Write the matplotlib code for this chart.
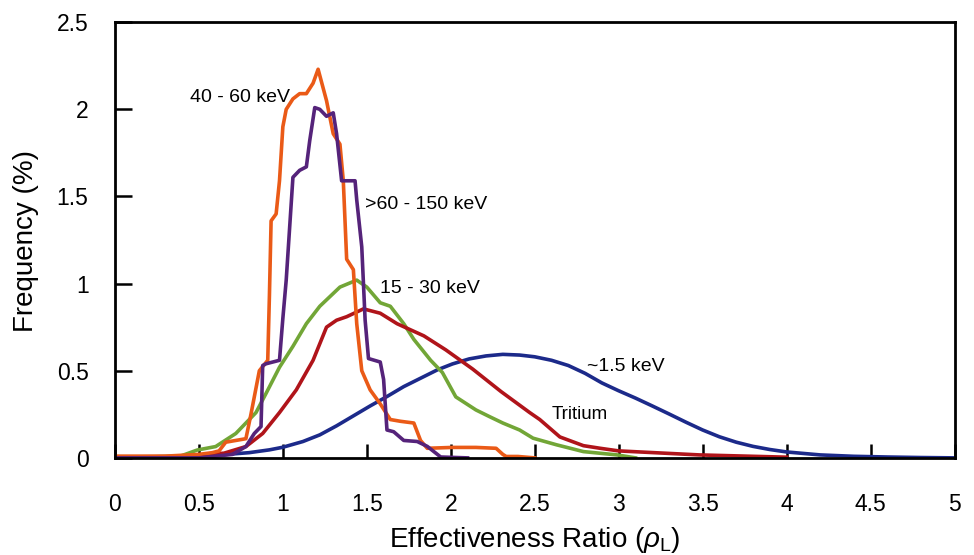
import matplotlib.pyplot as plt

plt.rcParams['font.family'] = ['Liberation Sans', 'DejaVu Sans']
plt.rcParams['mathtext.fontset'] = 'custom'
plt.rcParams['mathtext.rm'] = 'Liberation Sans'
plt.rcParams['mathtext.it'] = 'Liberation Sans:italic'

# Curvas: (rho_L, frecuencia %)
x_40_60 = [0, 0.3, 0.5, 0.58, 0.62, 0.66, 0.72, 0.78, 0.81, 0.86, 0.91, 0.92, 0.93, 0.96,
           0.98, 1.0, 1.02, 1.06, 1.10, 1.14, 1.18, 1.21, 1.26, 1.30, 1.34, 1.36, 1.38,
           1.42, 1.44, 1.47, 1.52, 1.58, 1.64, 1.70, 1.78, 1.82, 1.86, 2.01, 2.15, 2.27,
           2.31, 2.33, 2.40, 2.50]
y_40_60 = [0.01, 0.01, 0.02, 0.03, 0.04, 0.09, 0.10, 0.11, 0.25, 0.50, 0.56, 0.93, 1.36, 1.40,
           1.59, 1.90, 2.00, 2.06, 2.09, 2.09, 2.15, 2.23, 2.05, 1.86, 1.80, 1.59, 1.14,
           1.08, 0.77, 0.50, 0.39, 0.31, 0.22, 0.21, 0.20, 0.10, 0.055, 0.06, 0.06, 0.055,
           0.02, 0.008, 0.008, 0.0]

x_60_150 = [0, 0.5, 0.70, 0.78, 0.83, 0.87, 0.88, 0.90, 0.98, 1.00, 1.02, 1.06, 1.10, 1.14,
            1.16, 1.19, 1.22, 1.26, 1.30, 1.32, 1.35, 1.43, 1.44, 1.47, 1.49, 1.51, 1.58,
            1.60, 1.62, 1.66, 1.72, 1.80, 1.86, 1.94, 2.1]
y_60_150 = [0, 0.0, 0.02, 0.065, 0.14, 0.18, 0.53, 0.54, 0.56, 0.80, 1.02, 1.61, 1.65, 1.67,
            1.82, 2.01, 2.00, 1.96, 1.98, 1.86, 1.59, 1.59, 1.48, 1.21, 0.79, 0.57, 0.55,
            0.45, 0.16, 0.15, 0.10, 0.094, 0.066, 0.005, 0.0]

x_15_30 = [0, 0.39, 0.49, 0.6, 0.72, 0.84, 0.9, 0.98, 1.06, 1.14, 1.22, 1.34, 1.44, 1.5,
           1.58, 1.64, 1.72, 1.78, 1.88, 1.95, 2.03, 2.15, 2.23, 2.31, 2.41, 2.49, 2.63, 2.79,
           2.99, 3.1]
y_15_30 = [0.0, 0.01, 0.045, 0.065, 0.14, 0.26, 0.37, 0.52, 0.64, 0.77, 0.87, 0.98, 1.02, 0.98,
           0.89, 0.87, 0.77, 0.68, 0.56, 0.49, 0.35, 0.275, 0.237, 0.20, 0.16, 0.113, 0.075,
           0.036, 0.017, 0.0]

x_tritio = [0, 0.39, 0.65, 0.78, 0.88, 0.98, 1.08, 1.18, 1.26, 1.32, 1.38, 1.48, 1.58, 1.68,
            1.84, 1.97, 2.13, 2.30, 2.47, 2.53, 2.65, 2.79, 2.89, 3.0, 3.48, 4.0]
y_tritio = [0.005, 0.008, 0.027, 0.065, 0.14, 0.26, 0.39, 0.56, 0.75, 0.79, 0.81, 0.855, 0.83,
            0.77, 0.70, 0.62, 0.51, 0.38, 0.26, 0.22, 0.12, 0.07, 0.055, 0.04, 0.017, 0.004]

x_1_5 = [0, 0.3, 0.6, 0.8, 0.92, 1.0, 1.12, 1.22, 1.32, 1.42, 1.52, 1.62, 1.72, 1.82, 1.92,
         2.01, 2.11, 2.21, 2.31, 2.41, 2.5, 2.6, 2.7, 2.8, 2.9, 3.0, 3.1, 3.2, 3.3, 3.4,
         3.5, 3.6, 3.7, 3.8, 3.9, 4.0, 4.2, 4.4, 4.6, 4.8, 5.0]
y_1_5 = [0.0, 0.004, 0.015, 0.03, 0.046, 0.061, 0.094, 0.132, 0.184, 0.241, 0.298, 0.352,
         0.409, 0.457, 0.505, 0.539, 0.568, 0.585, 0.594, 0.59, 0.58, 0.56, 0.53, 0.485,
         0.43, 0.385, 0.343, 0.298, 0.252, 0.205, 0.16, 0.121, 0.09, 0.066, 0.048, 0.034,
         0.017, 0.009, 0.005, 0.002, 0.0]

xticks = [0, 0.5, 1, 1.5, 2, 2.5, 3, 3.5, 4, 4.5, 5]
xtick_labels = ['0', '0.5', '1', '1.5', '2', '2.5', '3', '3.5', '4', '4.5', '5']
yticks = [0, 0.5, 1, 1.5, 2, 2.5]
ytick_labels = ['0', '0.5', '1', '1.5', '2', '2.5']

fig = plt.figure(figsize=(9.74, 5.55), dpi=100)
ax = fig.add_axes([0.118, 0.175, 0.862, 0.785])

lw = 2.6
ax.plot(x_1_5, y_1_5, color='#1c2a8a', lw=lw)
ax.plot(x_15_30, y_15_30, color='#72a637', lw=lw)
ax.plot(x_tritio, y_tritio, color='#b0141a', lw=lw)
ax.plot(x_40_60, y_40_60, color='#ea5a17', lw=lw)
ax.plot(x_60_150, y_60_150, color='#55237a', lw=lw)

# Etiquetas de las curvas
ax.text(0.45, 2.07, '40 - 60 keV', fontsize=14, va='center')
ax.text(1.49, 1.456, '>60 - 150 keV', fontsize=14, va='center')
ax.text(1.58, 0.97, '15 - 30 keV', fontsize=14, va='center')
ax.text(2.81, 0.525, '~1.5 keV', fontsize=14, va='center')
ax.text(2.60, 0.25, 'Tritium', fontsize=13.5, va='center')

ax.set_xlim(0, 5)
ax.set_ylim(0, 2.5)
ax.set_xticks(xticks)
ax.set_xticklabels(xtick_labels, family=['Liberation Sans Narrow', 'Liberation Sans'])
ax.set_yticks(yticks)
ax.set_yticklabels(ytick_labels, family=['Liberation Sans Narrow', 'Liberation Sans'])
ax.tick_params(axis='x', direction='in', length=10, width=1.8, pad=25, labelsize=16.5)
ax.tick_params(axis='y', direction='in', length=12, width=1.8, pad=19, labelsize=16.5)
for lado in ax.spines.values():
    lado.set_linewidth(2)

fig.text(535 / 974, 1 - 547 / 555, r'Effectiveness Ratio ($\rho_{\mathrm{L}}$)',
         fontsize=20, ha='center', va='baseline')
fig.text(26 / 974, 1 - 241 / 555, 'Frequency (%)', fontsize=20, rotation=90,
         ha='center', va='center')

fig.savefig('out.png', dpi=100)
